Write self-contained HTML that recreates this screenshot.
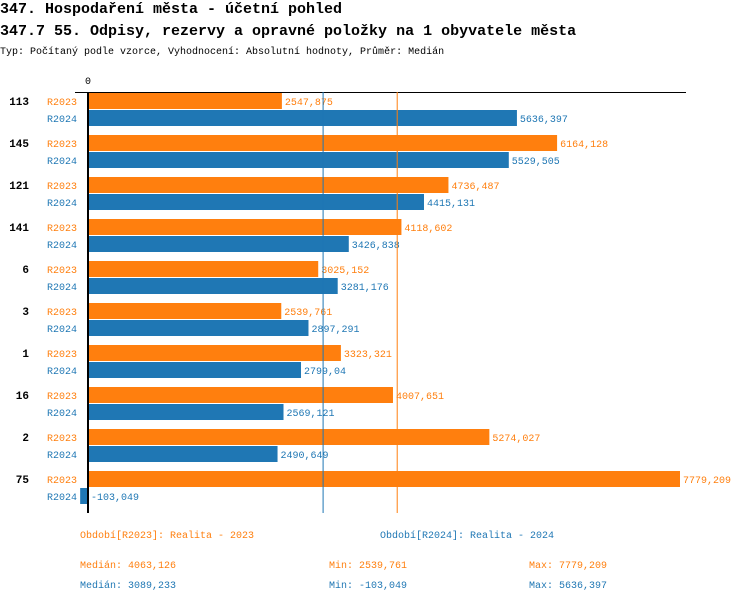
<!DOCTYPE html>
<html><head><meta charset="utf-8"><style>
body{margin:0;background:#fff;width:750px;height:602px;overflow:hidden;font-family:"Liberation Mono",monospace}
svg text{font-family:"Liberation Mono",monospace}
</style></head><body>
<svg id="c" width="750" height="602">
<text x="0" y="13" font-size="15" font-weight="bold">347. Hospodaření města - účetní pohled</text>
<text x="0" y="35" font-size="15" font-weight="bold">347.7 55. Odpisy, rezervy a opravné položky na 1 obyvatele města</text>
<text x="0" y="54" font-size="10">Typ: Počítaný podle vzorce, Vyhodnocení: Absolutní hodnoty, Průměr: Medián</text>
<g id="bars"></g>
</svg>
<script>
const categories=["113","145","121","141","6","3","1","16","2","75"];
const r2023=[2547.875,6164.128,4736.487,4118.602,3025.152,2539.761,3323.321,4007.651,5274.027,7779.209];
const r2024=[5636.397,5529.505,4415.131,3426.838,3281.176,2897.291,2799.04,2569.121,2490.649,-103.049];
const medians=[4063.126,3089.233];
const mins=["2539,761","-103,049"];
const maxs=["7779,209","5636,397"];
const C1="#ff7f0e",C2="#1f77b4";
const x=v=>88+v*0.0761;
const NS="http://www.w3.org/2000/svg";
const g=document.getElementById('bars');
function el(t,a,txt){const e=document.createElementNS(NS,t);for(const k in a)e.setAttribute(k,a[k]);if(txt!=null)e.textContent=txt;g.appendChild(e);return e;}
const fmt=v=>String(v).replace('.',',');
let e;
e=el('line',{x1:75,x2:686,y1:92.5,y2:92.5,stroke:'#000'});


e=el('text',{x:x(0)-3,y:84,'font-size':10},'0');


categories.forEach((c,i)=>{
  const y0=93+i*42;
  e=el('text',{x:29,y:y0+12,'font-size':11,'font-weight':'bold','text-anchor':'end'},c);
  
  
  [[r2023[i],'R2023',C1,0],[r2024[i],'R2024',C2,17]].forEach(([v,s,col,dy])=>{
    const yy=y0+dy;
    e=el('text',{x:47,y:yy+12,'font-size':10,fill:col},s);
    
    
    const a=x(0),b=x(v);
    e=el('rect',{x:Math.min(a,b),y:yy,width:Math.abs(b-a),height:16,fill:col});
    
    
    e=el('text',{x:Math.max(a,b)+3,y:yy+12,'font-size':10,fill:col},fmt(v));
    
    
  });
});
[[medians[1],C2],[medians[0],C1]].forEach(([m,col])=>{
  e=el('line',{x1:x(m),x2:x(m),y1:92,y2:513,stroke:col,'stroke-width':1});
  
  
});
e=el('line',{x1:88,x2:88,y1:92,y2:513,stroke:'#000','stroke-width':2});


const leg=[[80,538,C1,'Období[R2023]: Realita - 2023'],[380,538,C2,'Období[R2024]: Realita - 2024'],
[80,568,C1,'Medián: '+fmt(medians[0])],[329,568,C1,'Min: '+mins[0]],[529,568,C1,'Max: '+maxs[0]],
[80,588,C2,'Medián: '+fmt(medians[1])],[329,588,C2,'Min: '+mins[1]],[529,588,C2,'Max: '+maxs[1]]];
leg.forEach(([lx,ly,col,t])=>{
  e=el('text',{x:lx,y:ly,'font-size':10,fill:col},t);
  
  
});
</script>
</body></html>
